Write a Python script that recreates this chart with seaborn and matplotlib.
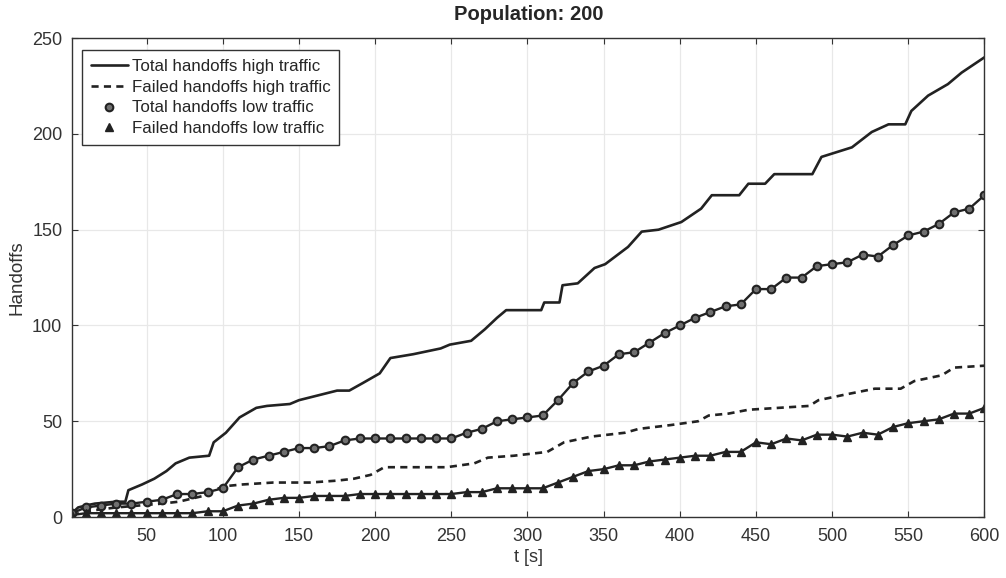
import matplotlib
matplotlib.use("Agg")
import matplotlib.pyplot as plt
import seaborn as sns
import numpy as np
import pandas as pd

# ---- data ----
t_total_high = [1, 5, 10, 16, 30, 36, 38, 47, 55, 63, 69, 78, 91, 94, 102, 111, 122, 129, 144,
                150, 155, 165, 175, 183, 192, 203, 210, 225, 243, 249, 263, 272, 280, 286, 309,
                311, 321, 323, 333, 344, 351, 366, 375, 386, 401, 414, 421, 439, 445, 456, 462,
                487, 493, 513, 526, 537, 548, 552, 563, 576, 585, 600]
total_high = [2, 5, 6, 7, 8, 8, 14, 17, 20, 24, 28, 31, 32, 39, 44, 52, 57, 58, 59,
              61, 62, 64, 66, 66, 70, 75, 83, 85, 88, 90, 92, 98, 104, 108, 108,
              112, 112, 121, 122, 130, 132, 141, 149, 150, 154, 161, 168, 168, 174, 174, 179,
              179, 188, 193, 201, 205, 205, 212, 220, 226, 232, 240]

t_failed_high = [1, 10, 20, 30, 45, 60, 71, 87, 100, 113, 133, 157, 175, 186, 197, 206, 230, 247,
                 265, 274, 291, 313, 324, 342, 364, 373, 394, 412, 419, 432, 445, 485, 491, 509,
                 528, 545, 554, 572, 580, 600]
failed_high = [1, 3, 4, 5, 6, 7, 8, 11, 16, 17, 18, 18, 19, 20, 22, 26, 26, 26,
               28, 31, 32, 34, 39, 42, 44, 46, 48, 50, 53, 54, 56, 58, 61, 64,
               67, 67, 71, 74, 78, 79]

t_low = [1, 10, 20, 30, 40, 50, 60, 70, 80, 90, 100, 110, 120, 130, 140, 150, 160, 170, 180,
         190, 200, 210, 220, 230, 240, 250, 260, 270, 280, 290, 300, 310, 320, 330, 340, 350,
         360, 370, 380, 390, 400, 410, 420, 430, 440, 450, 460, 470, 480, 490, 500, 510, 520,
         530, 540, 550, 560, 570, 580, 590, 600]
total_low = [2, 5, 6, 7, 7, 8, 9, 12, 12, 13, 15, 26, 30, 32, 34, 36, 36, 37, 40,
             41, 41, 41, 41, 41, 41, 41, 44, 46, 50, 51, 52, 53, 61, 70, 76, 79,
             85, 86, 91, 96, 100, 104, 107, 110, 111, 119, 119, 125, 125, 131, 132, 133, 137,
             136, 142, 147, 149, 153, 159, 161, 168]
failed_low = [1, 2, 2, 2, 2, 2, 2, 2, 2, 3, 3, 6, 7, 9, 10, 10, 11, 11, 11,
              12, 12, 12, 12, 12, 12, 12, 13, 13, 15, 15, 15, 15, 18, 21, 24, 25,
              27, 27, 29, 30, 31, 32, 32, 34, 34, 39, 38, 41, 40, 43, 43, 42, 44,
              43, 47, 49, 50, 51, 54, 54, 57]

labels = ["Total handoffs high traffic", "Failed handoffs high traffic",
          "Total handoffs low traffic", "Failed handoffs low traffic"]
x_ticks = [50, 100, 150, 200, 250, 300, 350, 400, 450, 500, 550, 600]
y_ticks = [0, 50, 100, 150, 200, 250]

sns.set_theme(style="whitegrid")
plt.rcParams["font.family"] = ["Liberation Sans", "DejaVu Sans"]

fig = plt.figure(figsize=(10.06, 5.78), dpi=100)
ax = fig.add_axes([0.0716, 0.1055, 0.907, 0.8285])

lc = "#222222"
sns.lineplot(x=t_total_high, y=total_high, ax=ax, color=lc, lw=1.9,
             estimator=None, sort=False, label=labels[0])
sns.lineplot(x=t_failed_high, y=failed_high, ax=ax, color=lc, lw=1.9,
             estimator=None, sort=False, label=labels[1], linestyle=(0, (2.7, 2.0)))
sns.lineplot(x=t_low, y=total_low, ax=ax, color=lc, lw=1.7,
             estimator=None, sort=False, legend=False)
sns.lineplot(x=t_low, y=failed_low, ax=ax, color=lc, lw=1.7,
             estimator=None, sort=False, legend=False)
ax.plot(t_low, total_low, linestyle="none", marker="o", ms=5.5, mfc="#707070",
        mec=lc, mew=1.5, label=labels[2])
ax.plot(t_low, failed_low, linestyle="none", marker="^", ms=6, mfc=lc,
        mec=lc, mew=1.0, label=labels[3])

ax.set_xlim(1, 600)
ax.set_ylim(0, 250)
ax.set_xticks(x_ticks)
ax.set_yticks(y_ticks)
ax.grid(True, color="#e8e8e8", lw=0.9)
for s in ax.spines.values():
    s.set_visible(True)
    s.set_color("#333333")
    s.set_linewidth(1.0)
ax.tick_params(direction="in", length=4, width=0.8, colors="#333333",
               labelsize=13, top=True, right=True, bottom=True, left=True)
ax.tick_params(axis="x", pad=8)
ax.tick_params(axis="y", pad=7)
ax.set_xlabel("t [s]", fontsize=13, color="#333333", labelpad=3)
ax.set_ylabel("Handoffs", fontsize=13.5, color="#333333", labelpad=5)
ax.set_title("Population: 200", fontsize=14.5, fontweight="bold", color="#262626", pad=13)

h, l = ax.get_legend_handles_labels()
order = [l.index(x) for x in labels]
leg = ax.legend([h[i] for i in order], [l[i] for i in order], loc="upper left",
                bbox_to_anchor=(0.011, 0.975), borderaxespad=0, fontsize=12.2,
                frameon=True, fancybox=False, edgecolor="#333333", framealpha=1,
                handlelength=2.2, handletextpad=0.25, labelspacing=0.35, borderpad=0.5)
leg.get_frame().set_linewidth(1.0)

fig.savefig("out.png", dpi=100)
